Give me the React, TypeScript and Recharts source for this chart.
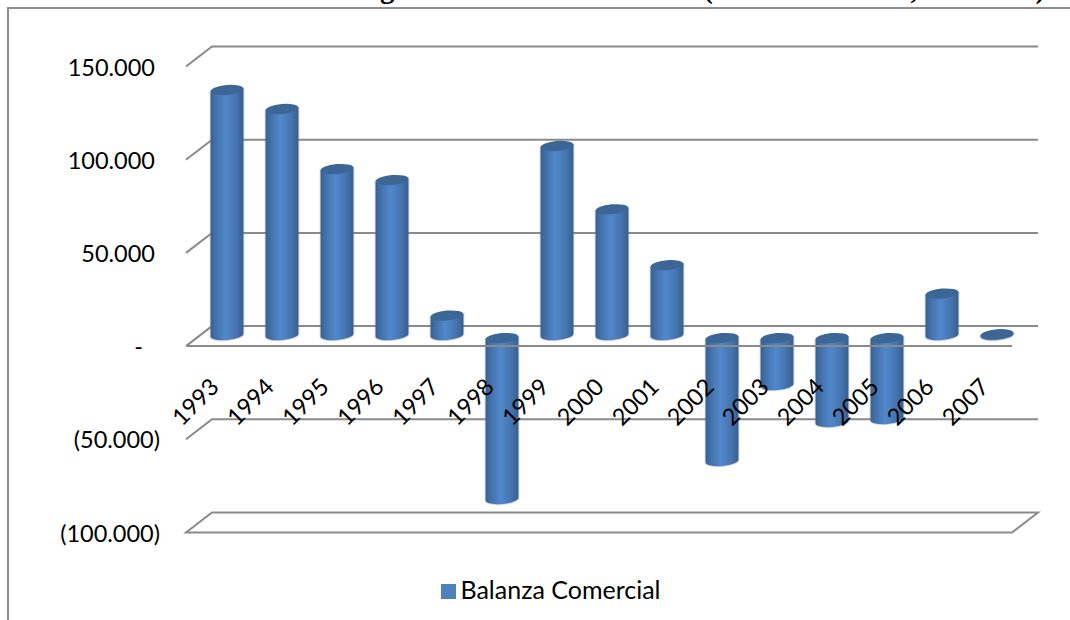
import React from "react";
import { ComposedChart, Bar, XAxis, YAxis, CartesianGrid, ReferenceLine, Legend } from "recharts";

const years = ["1993","1994","1995","1996","1997","1998","1999","2000","2001","2002","2003","2004","2005","2006","2007"];
const balanza = [132000,121800,89600,83700,11000,-87400,102000,68000,38000,-67000,-26300,-46100,-44500,22800,1000];
const yTicks = [150000,100000,50000,0,-50000,-100000];
const titleText = "Balanza comercial sector agroindustrial ecuatoriano (miles de dólares, año 2007)";
const seriesName = "Balanza Comercial";

const rows = years.map((year, i) => ({ year, value: balanza[i] }));

const FONT = "Lato, sans-serif";
const GRID = "#8a8a8a";

const fmt = (v: number) => {
  const s = Math.abs(v).toLocaleString("de-DE");
  if (v === 0) return "-";
  return v < 0 ? `(${s})` : s;
};

const YTick = (p: any) => {
  const v = p.payload.value;
  const end = v === 0 ? 143 : v < 0 ? 160 : 155;
  return (
    <text x={end} y={p.y + 9} textAnchor="end" fontFamily={FONT} fontSize={23.5} fill="#000">
      {fmt(v)}
    </text>
  );
};

const XTick = (p: any) => {
  const cx = p.x - 19;
  const cy = 410;
  return (
    <text x={cx} y={cy} textAnchor="middle" fontFamily={FONT} fontSize={23.5} fill="#000" transform={`rotate(-45 ${cx} ${cy - 8})`}>
      {p.payload.value}
    </text>
  );
};

const gridLine = (p: any) => {
  const { x1, x2, y1: y, key, index } = p;
  const backY = y - 20;
  const isFloor = Math.abs(y - 532.5) < 1;
  const d = isFloor
    ? `M${x1 - 1},${y} L${x2},${y} L${x2 + 26},${backY} L${x1 + 25},${backY} Z`
    : `M${x1 - 1},${y} L${x1 + 25},${backY} L${x2 + 26},${backY}`;
  return <path key={key ?? index} d={d} fill="none" stroke={GRID} strokeWidth={2} />;
};

const DX = 12.5;
const DY = -10;
const TILT = 5;

const Cylinder = (p: any) => {
  const { x, y, width, height, value } = p;
  const raw = Array.isArray(value) ? value[1] : value;
  const a = Math.min(y, y + height) + DY;
  const b = Math.max(y, y + height) + DY;
  const neg = raw < 0;
  const top = neg ? a + 2 : a;
  const bot = neg ? b : b - 1;
  const cx = x + width / 2 + DX;
  const rx = width / 2;
  const ry = 5;
  const ox = rx * Math.cos((TILT * Math.PI) / 180);
  const oy = rx * Math.sin((TILT * Math.PI) / 180);
  const d = `M${cx - ox},${top + oy} L${cx - ox},${bot + oy} A${rx},${ry} ${-TILT} 0 0 ${cx + ox},${bot - oy} L${cx + ox},${top - oy} Z`;
  return (
    <g>
      <path d={d} fill="none" stroke="#808080" strokeOpacity={0.3} strokeWidth={2} />
      <path d={d} fill="url(#cyl)" />
      <ellipse cx={cx} cy={top} rx={rx} ry={ry} fill="#3c6696" transform={`rotate(${-TILT} ${cx} ${top})`} />
    </g>
  );
};

const legendText = (v: string) => (
  <span style={{ color: "#000", fontFamily: FONT, fontSize: 25, position: "relative", top: 4 }}>{v}</span>
);

export default function App() {
  return (
    <div style={{ position: "absolute", left: 0, top: 0, width: 1070, height: 620, overflow: "hidden", background: "#fff" }}>
      <div
        style={{
          position: "absolute",
          left: 50,
          top: -29,
          whiteSpace: "nowrap",
          fontFamily: "'Liberation Serif', serif",
          fontWeight: "bold",
          fontSize: 29,
          lineHeight: "34px",
          color: "#000",
        }}
      >
        {titleText}
      </div>
      <div style={{ position: "absolute", left: 7, top: 7, width: 1070, height: 620, borderLeft: "2px solid #8e8e8e", borderTop: "2px solid #8e8e8e" }} />
      <div style={{ position: "absolute", left: 0, top: 0 }}>
        <ComposedChart
          width={1070}
          height={620}
          data={rows}
          margin={{ top: 66.5, right: 58, bottom: 86.5, left: 0 }}
          barCategoryGap={0}
        >
          <defs>
            <linearGradient id="cyl" x1="0" y1="0" x2="1" y2="0">
              <stop offset="0%" stopColor="#386090" />
              <stop offset="15%" stopColor="#4271a9" />
              <stop offset="45%" stopColor="#5188cb" />
              <stop offset="75%" stopColor="#4676b2" />
              <stop offset="100%" stopColor="#38608e" />
            </linearGradient>
          </defs>
          <CartesianGrid vertical={false} horizontal={gridLine} />
          <XAxis dataKey="year" axisLine={false} tickLine={false} height={1} interval={0} tick={XTick} />
          <YAxis
            width={187}
            domain={[-100000, 150000]}
            ticks={yTicks}
            interval={0}
            axisLine={false}
            tickLine={false}
            tick={YTick}
          />
          <Bar dataKey="value" name={seriesName} fill="#4f81bd" barSize={33} isAnimationActive={false} shape={Cylinder} />
          <ReferenceLine y={0} stroke={GRID} strokeWidth={2} />
          <Legend
            verticalAlign="middle"
            align="center"
            iconType="square"
            iconSize={15}
            formatter={legendText}
            wrapperStyle={{ left: 341, top: 570, width: 430, height: 34 }}
          />
        </ComposedChart>
      </div>
    </div>
  );
}
